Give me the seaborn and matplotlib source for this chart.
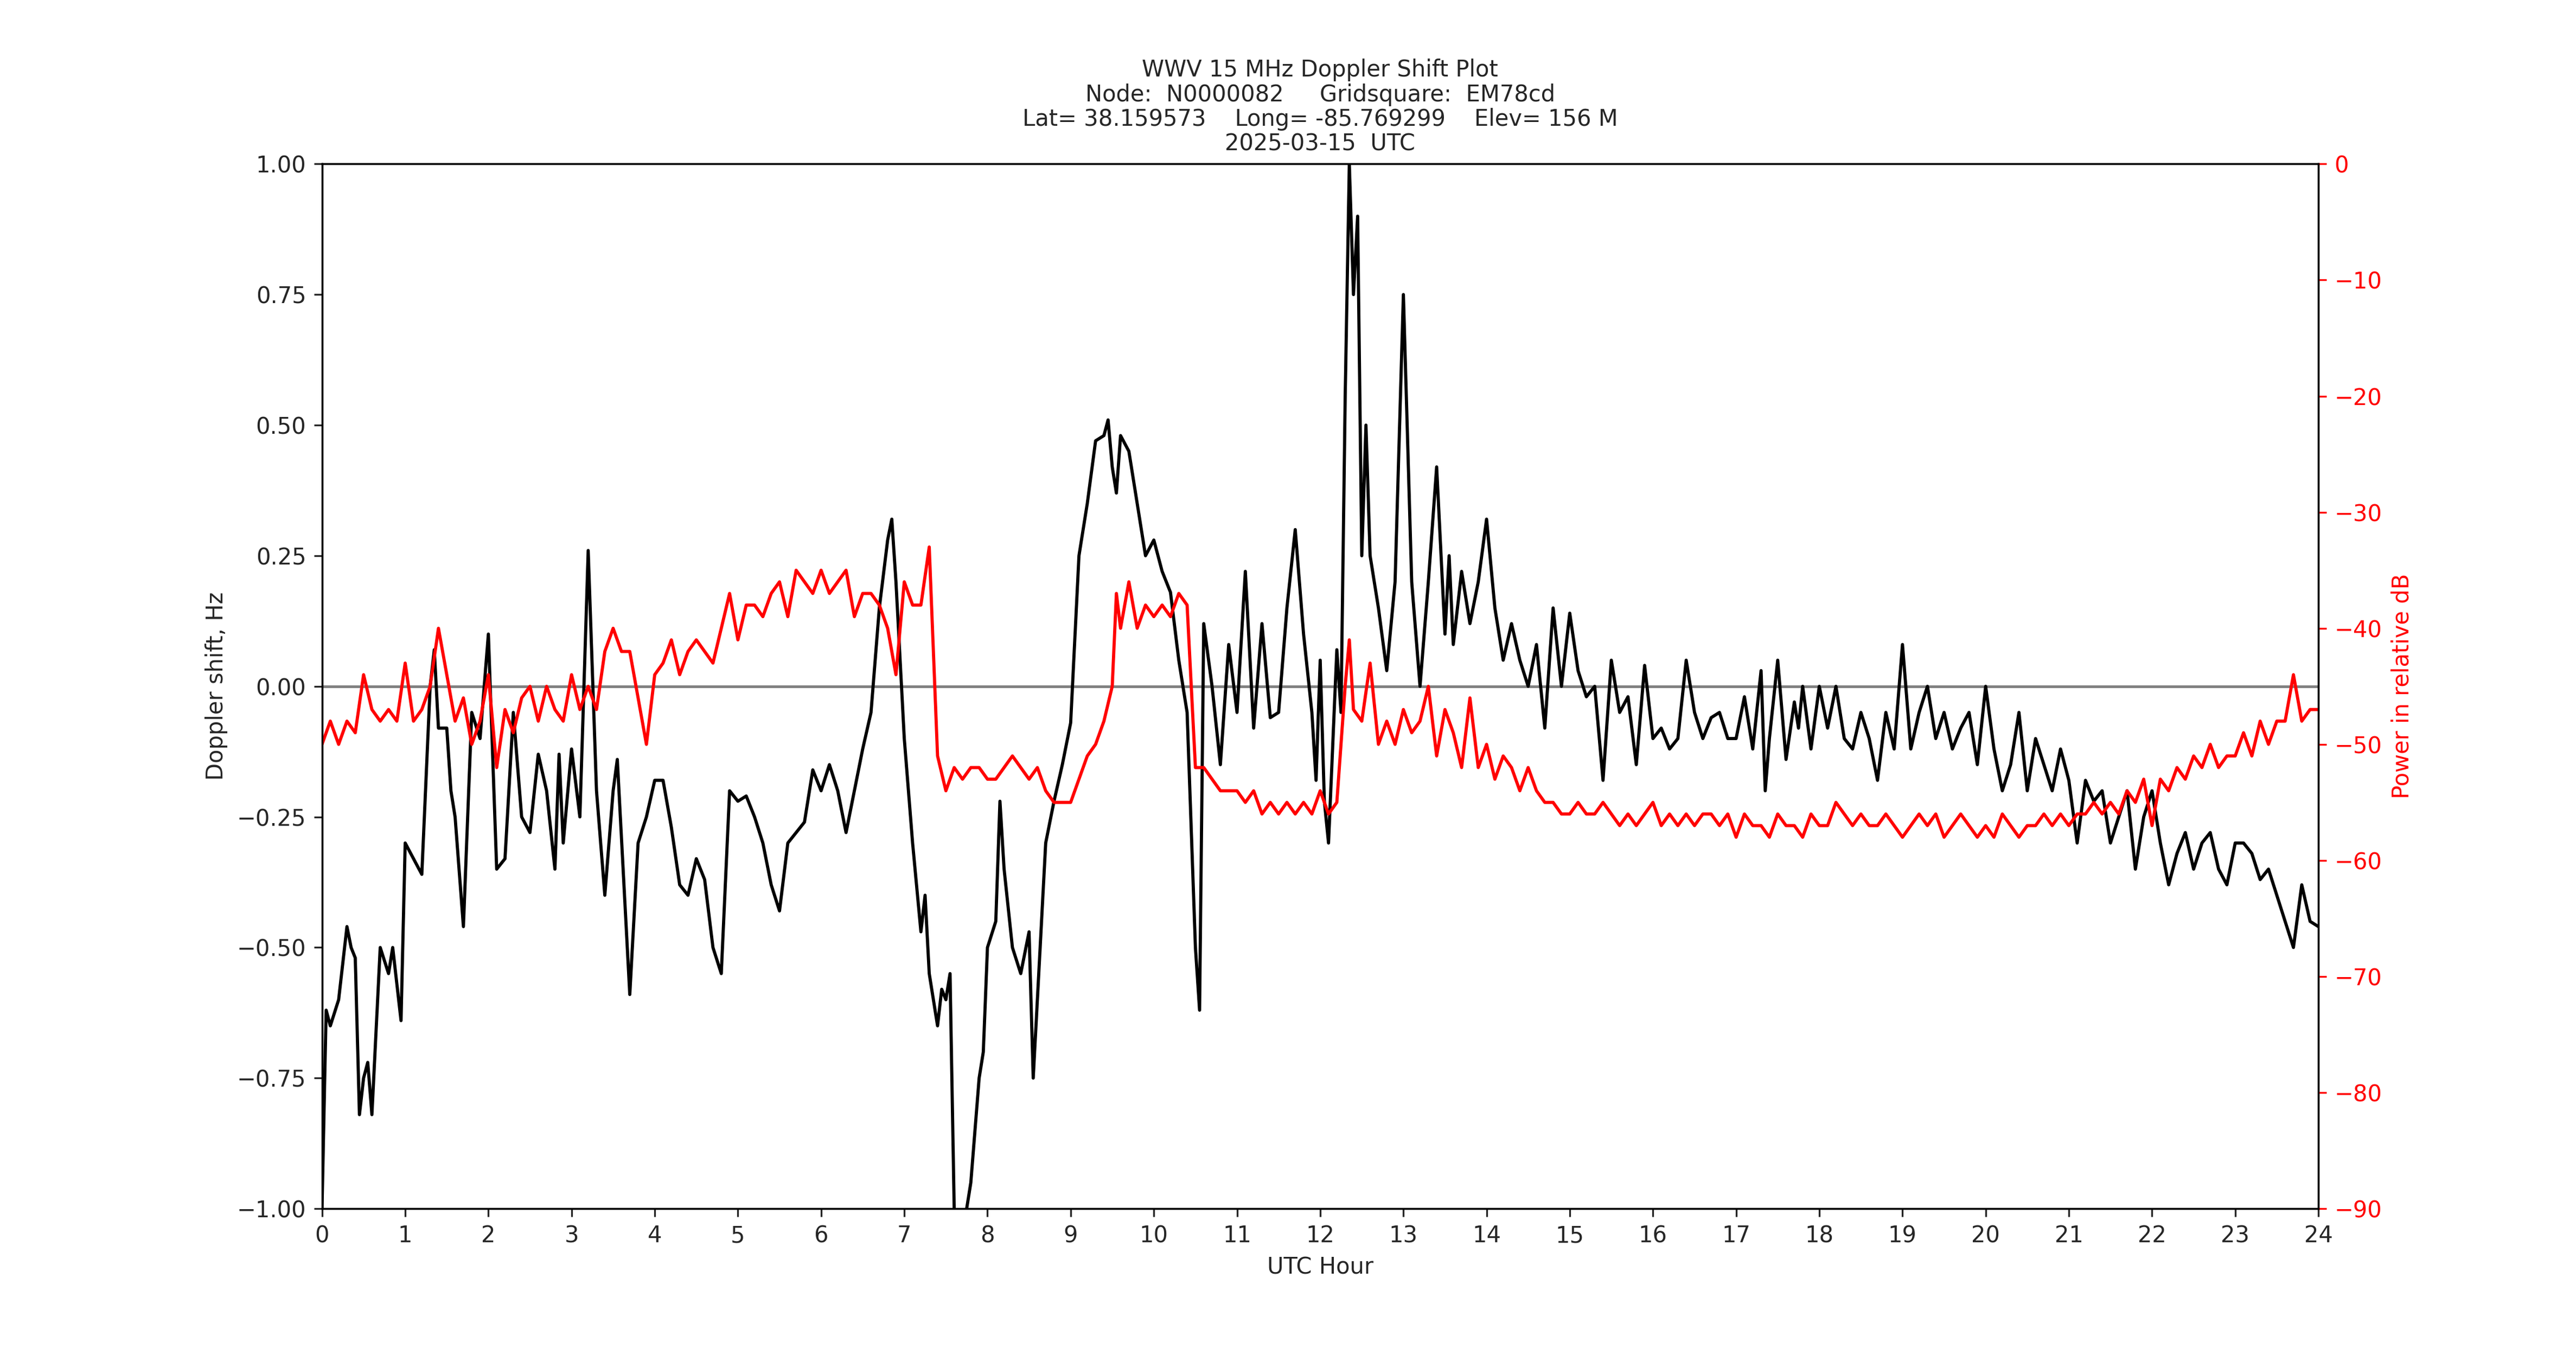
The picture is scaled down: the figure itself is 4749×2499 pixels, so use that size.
import matplotlib
matplotlib.use("Agg")
import matplotlib.pyplot as plt
import seaborn as sns
import numpy as np

hours_d = [0.0,0.05,0.1,0.2,0.3,0.35,0.4,0.45,0.5,0.55,0.6,0.7,0.8,0.85,0.95,1.0,1.1,1.2,1.3,1.35,1.4,1.5,1.55,1.6,1.7,1.8,1.9,2.0,2.1,2.2,2.3,2.4,2.5,2.6,2.7,2.8,2.85,2.9,3.0,3.1,3.2,3.3,3.4,3.5,3.55,3.7,3.8,3.9,4.0,4.1,4.2,4.3,4.4,4.5,4.6,4.7,4.8,4.9,5.0,5.1,5.2,5.3,5.4,5.5,5.6,5.7,5.8,5.9,6.0,6.1,6.2,6.3,6.4,6.5,6.6,6.7,6.8,6.85,6.9,7.0,7.1,7.2,7.25,7.3,7.4,7.45,7.5,7.55,7.6,7.7,7.8,7.9,7.95,8.0,8.1,8.15,8.2,8.3,8.4,8.5,8.55,8.6,8.7,8.8,8.9,9.0,9.1,9.2,9.3,9.4,9.45,9.5,9.55,9.6,9.7,9.8,9.9,10.0,10.1,10.2,10.3,10.4,10.5,10.55,10.6,10.7,10.8,10.9,11.0,11.1,11.2,11.3,11.4,11.5,11.6,11.7,11.8,11.9,11.95,12.0,12.05,12.1,12.2,12.25,12.3,12.35,12.4,12.45,12.5,12.55,12.6,12.7,12.8,12.9,13.0,13.1,13.2,13.3,13.4,13.5,13.55,13.6,13.7,13.8,13.9,14.0,14.1,14.2,14.3,14.4,14.5,14.6,14.7,14.8,14.9,15.0,15.1,15.2,15.3,15.4,15.5,15.6,15.7,15.8,15.9,16.0,16.1,16.2,16.3,16.4,16.5,16.6,16.7,16.8,16.9,17.0,17.1,17.2,17.3,17.35,17.4,17.5,17.6,17.7,17.75,17.8,17.9,18.0,18.1,18.2,18.3,18.4,18.5,18.6,18.7,18.8,18.9,19.0,19.1,19.2,19.3,19.4,19.5,19.6,19.7,19.8,19.9,20.0,20.1,20.2,20.3,20.4,20.5,20.6,20.7,20.8,20.9,21.0,21.1,21.2,21.3,21.4,21.5,21.6,21.7,21.8,21.9,22.0,22.1,22.2,22.3,22.4,22.5,22.6,22.7,22.8,22.9,23.0,23.1,23.2,23.3,23.4,23.5,23.6,23.7,23.8,23.9,24.0]
doppler = [-1.0,-0.62,-0.65,-0.6,-0.46,-0.5,-0.52,-0.82,-0.75,-0.72,-0.82,-0.5,-0.55,-0.5,-0.64,-0.3,-0.33,-0.36,0.0,0.07,-0.08,-0.08,-0.2,-0.25,-0.46,-0.05,-0.1,0.1,-0.35,-0.33,-0.05,-0.25,-0.28,-0.13,-0.2,-0.35,-0.13,-0.3,-0.12,-0.25,0.26,-0.2,-0.4,-0.2,-0.14,-0.59,-0.3,-0.25,-0.18,-0.18,-0.27,-0.38,-0.4,-0.33,-0.37,-0.5,-0.55,-0.2,-0.22,-0.21,-0.25,-0.3,-0.38,-0.43,-0.3,-0.28,-0.26,-0.16,-0.2,-0.15,-0.2,-0.28,-0.2,-0.12,-0.05,0.15,0.28,0.32,0.2,-0.1,-0.3,-0.47,-0.4,-0.55,-0.65,-0.58,-0.6,-0.55,-1.0,-1.05,-0.95,-0.75,-0.7,-0.5,-0.45,-0.22,-0.35,-0.5,-0.55,-0.47,-0.75,-0.6,-0.3,-0.22,-0.15,-0.07,0.25,0.35,0.47,0.48,0.51,0.42,0.37,0.48,0.45,0.35,0.25,0.28,0.22,0.18,0.05,-0.05,-0.5,-0.62,0.12,0.0,-0.15,0.08,-0.05,0.22,-0.08,0.12,-0.06,-0.05,0.15,0.3,0.1,-0.05,-0.18,0.05,-0.22,-0.3,0.07,-0.05,0.55,1.0,0.75,0.9,0.25,0.5,0.25,0.15,0.03,0.2,0.75,0.2,0.0,0.2,0.42,0.1,0.25,0.08,0.22,0.12,0.2,0.32,0.15,0.05,0.12,0.05,0.0,0.08,-0.08,0.15,0.0,0.14,0.03,-0.02,0.0,-0.18,0.05,-0.05,-0.02,-0.15,0.04,-0.1,-0.08,-0.12,-0.1,0.05,-0.05,-0.1,-0.06,-0.05,-0.1,-0.1,-0.02,-0.12,0.03,-0.2,-0.1,0.05,-0.14,-0.03,-0.08,0.0,-0.12,0.0,-0.08,0.0,-0.1,-0.12,-0.05,-0.1,-0.18,-0.05,-0.12,0.08,-0.12,-0.05,0.0,-0.1,-0.05,-0.12,-0.08,-0.05,-0.15,0.0,-0.12,-0.2,-0.15,-0.05,-0.2,-0.1,-0.15,-0.2,-0.12,-0.18,-0.3,-0.18,-0.22,-0.2,-0.3,-0.25,-0.2,-0.35,-0.25,-0.2,-0.3,-0.38,-0.32,-0.28,-0.35,-0.3,-0.28,-0.35,-0.38,-0.3,-0.3,-0.32,-0.37,-0.35,-0.4,-0.45,-0.5,-0.38,-0.45,-0.46]

hours_p = [0.0,0.1,0.2,0.3,0.4,0.5,0.6,0.7,0.8,0.9,1.0,1.1,1.2,1.3,1.4,1.5,1.6,1.7,1.8,1.9,2.0,2.1,2.2,2.3,2.4,2.5,2.6,2.7,2.8,2.9,3.0,3.1,3.2,3.3,3.4,3.5,3.6,3.7,3.8,3.9,4.0,4.1,4.2,4.3,4.4,4.5,4.6,4.7,4.8,4.9,5.0,5.1,5.2,5.3,5.4,5.5,5.6,5.7,5.8,5.9,6.0,6.1,6.2,6.3,6.4,6.5,6.6,6.7,6.8,6.9,7.0,7.1,7.2,7.3,7.35,7.4,7.5,7.6,7.7,7.8,7.9,8.0,8.1,8.2,8.3,8.4,8.5,8.6,8.7,8.8,8.9,9.0,9.1,9.2,9.3,9.4,9.5,9.55,9.6,9.7,9.8,9.9,10.0,10.1,10.2,10.3,10.4,10.5,10.6,10.7,10.8,10.9,11.0,11.1,11.2,11.3,11.4,11.5,11.6,11.7,11.8,11.9,12.0,12.1,12.2,12.3,12.35,12.4,12.5,12.6,12.7,12.8,12.9,13.0,13.1,13.2,13.3,13.4,13.5,13.6,13.7,13.8,13.9,14.0,14.1,14.2,14.3,14.4,14.5,14.6,14.7,14.8,14.9,15.0,15.1,15.2,15.3,15.4,15.5,15.6,15.7,15.8,15.9,16.0,16.1,16.2,16.3,16.4,16.5,16.6,16.7,16.8,16.9,17.0,17.1,17.2,17.3,17.4,17.5,17.6,17.7,17.8,17.9,18.0,18.1,18.2,18.3,18.4,18.5,18.6,18.7,18.8,18.9,19.0,19.1,19.2,19.3,19.4,19.5,19.6,19.7,19.8,19.9,20.0,20.1,20.2,20.3,20.4,20.5,20.6,20.7,20.8,20.9,21.0,21.1,21.2,21.3,21.4,21.5,21.6,21.7,21.8,21.9,22.0,22.1,22.2,22.3,22.4,22.5,22.6,22.7,22.8,22.9,23.0,23.1,23.2,23.3,23.4,23.5,23.6,23.7,23.8,23.9,24.0]
power = [-50,-48,-50,-48,-49,-44,-47,-48,-47,-48,-43,-48,-47,-45,-40,-44,-48,-46,-50,-48,-44,-52,-47,-49,-46,-45,-48,-45,-47,-48,-44,-47,-45,-47,-42,-40,-42,-42,-46,-50,-44,-43,-41,-44,-42,-41,-42,-43,-40,-37,-41,-38,-38,-39,-37,-36,-39,-35,-36,-37,-35,-37,-36,-35,-39,-37,-37,-38,-40,-44,-36,-38,-38,-33,-42,-51,-54,-52,-53,-52,-52,-53,-53,-52,-51,-52,-53,-52,-54,-55,-55,-55,-53,-51,-50,-48,-45,-37,-40,-36,-40,-38,-39,-38,-39,-37,-38,-52,-52,-53,-54,-54,-54,-55,-54,-56,-55,-56,-55,-56,-55,-56,-54,-56,-55,-45,-41,-47,-48,-43,-50,-48,-50,-47,-49,-48,-45,-51,-47,-49,-52,-46,-52,-50,-53,-51,-52,-54,-52,-54,-55,-55,-56,-56,-55,-56,-56,-55,-56,-57,-56,-57,-56,-55,-57,-56,-57,-56,-57,-56,-56,-57,-56,-58,-56,-57,-57,-58,-56,-57,-57,-58,-56,-57,-57,-55,-56,-57,-56,-57,-57,-56,-57,-58,-57,-56,-57,-56,-58,-57,-56,-57,-58,-57,-58,-56,-57,-58,-57,-57,-56,-57,-56,-57,-56,-56,-55,-56,-55,-56,-54,-55,-53,-57,-53,-54,-52,-53,-51,-52,-50,-52,-51,-51,-49,-51,-48,-50,-48,-48,-44,-48,-47,-47]

sns.set_style("ticks")
plt.rcParams['font.family'] = ['DejaVu Sans']
fig, ax = plt.subplots(figsize=(15.83, 8.33), dpi=300)
fig.subplots_adjust(left=0.125, right=0.90, top=0.879, bottom=0.108)
ax.axhline(0, color='grey', lw=1.2)
sns.lineplot(x=hours_d, y=doppler, ax=ax, color='black', lw=1.4, sort=False)
ax.set_xlim(0, 24)
ax.set_ylim(-1, 1)
ax.set_xticks(range(0, 25))
ax.set_yticks([-1, -0.75, -0.5, -0.25, 0, 0.25, 0.5, 0.75, 1.0])
ax.set_yticklabels(['−1.00','−0.75','−0.50','−0.25','0.00','0.25','0.50','0.75','1.00'])
ax.set_xlabel('UTC Hour')
ax.set_ylabel('Doppler shift, Hz')
ax.set_title('WWV 15 MHz Doppler Shift Plot\nNode:  N0000082     Gridsquare:  EM78cd\n'
             'Lat= 38.159573    Long= -85.769299    Elev= 156 M\n2025-03-15  UTC', fontsize=10, linespacing=1.1)
ax2 = ax.twinx()
sns.lineplot(x=hours_p, y=power, ax=ax2, color='red', lw=1.4, sort=False)
ax2.set_ylim(-90, 0)
ax2.set_yticks(range(-90, 1, 10))
ax2.set_ylabel('Power in relative dB', color='red')
ax2.tick_params(axis='y', colors='red')
for a in (ax, ax2):
    for s in a.spines.values():
        s.set_visible(True)
        s.set_color('black')
        s.set_linewidth(0.8)
fig.savefig('out.png', dpi=300)
